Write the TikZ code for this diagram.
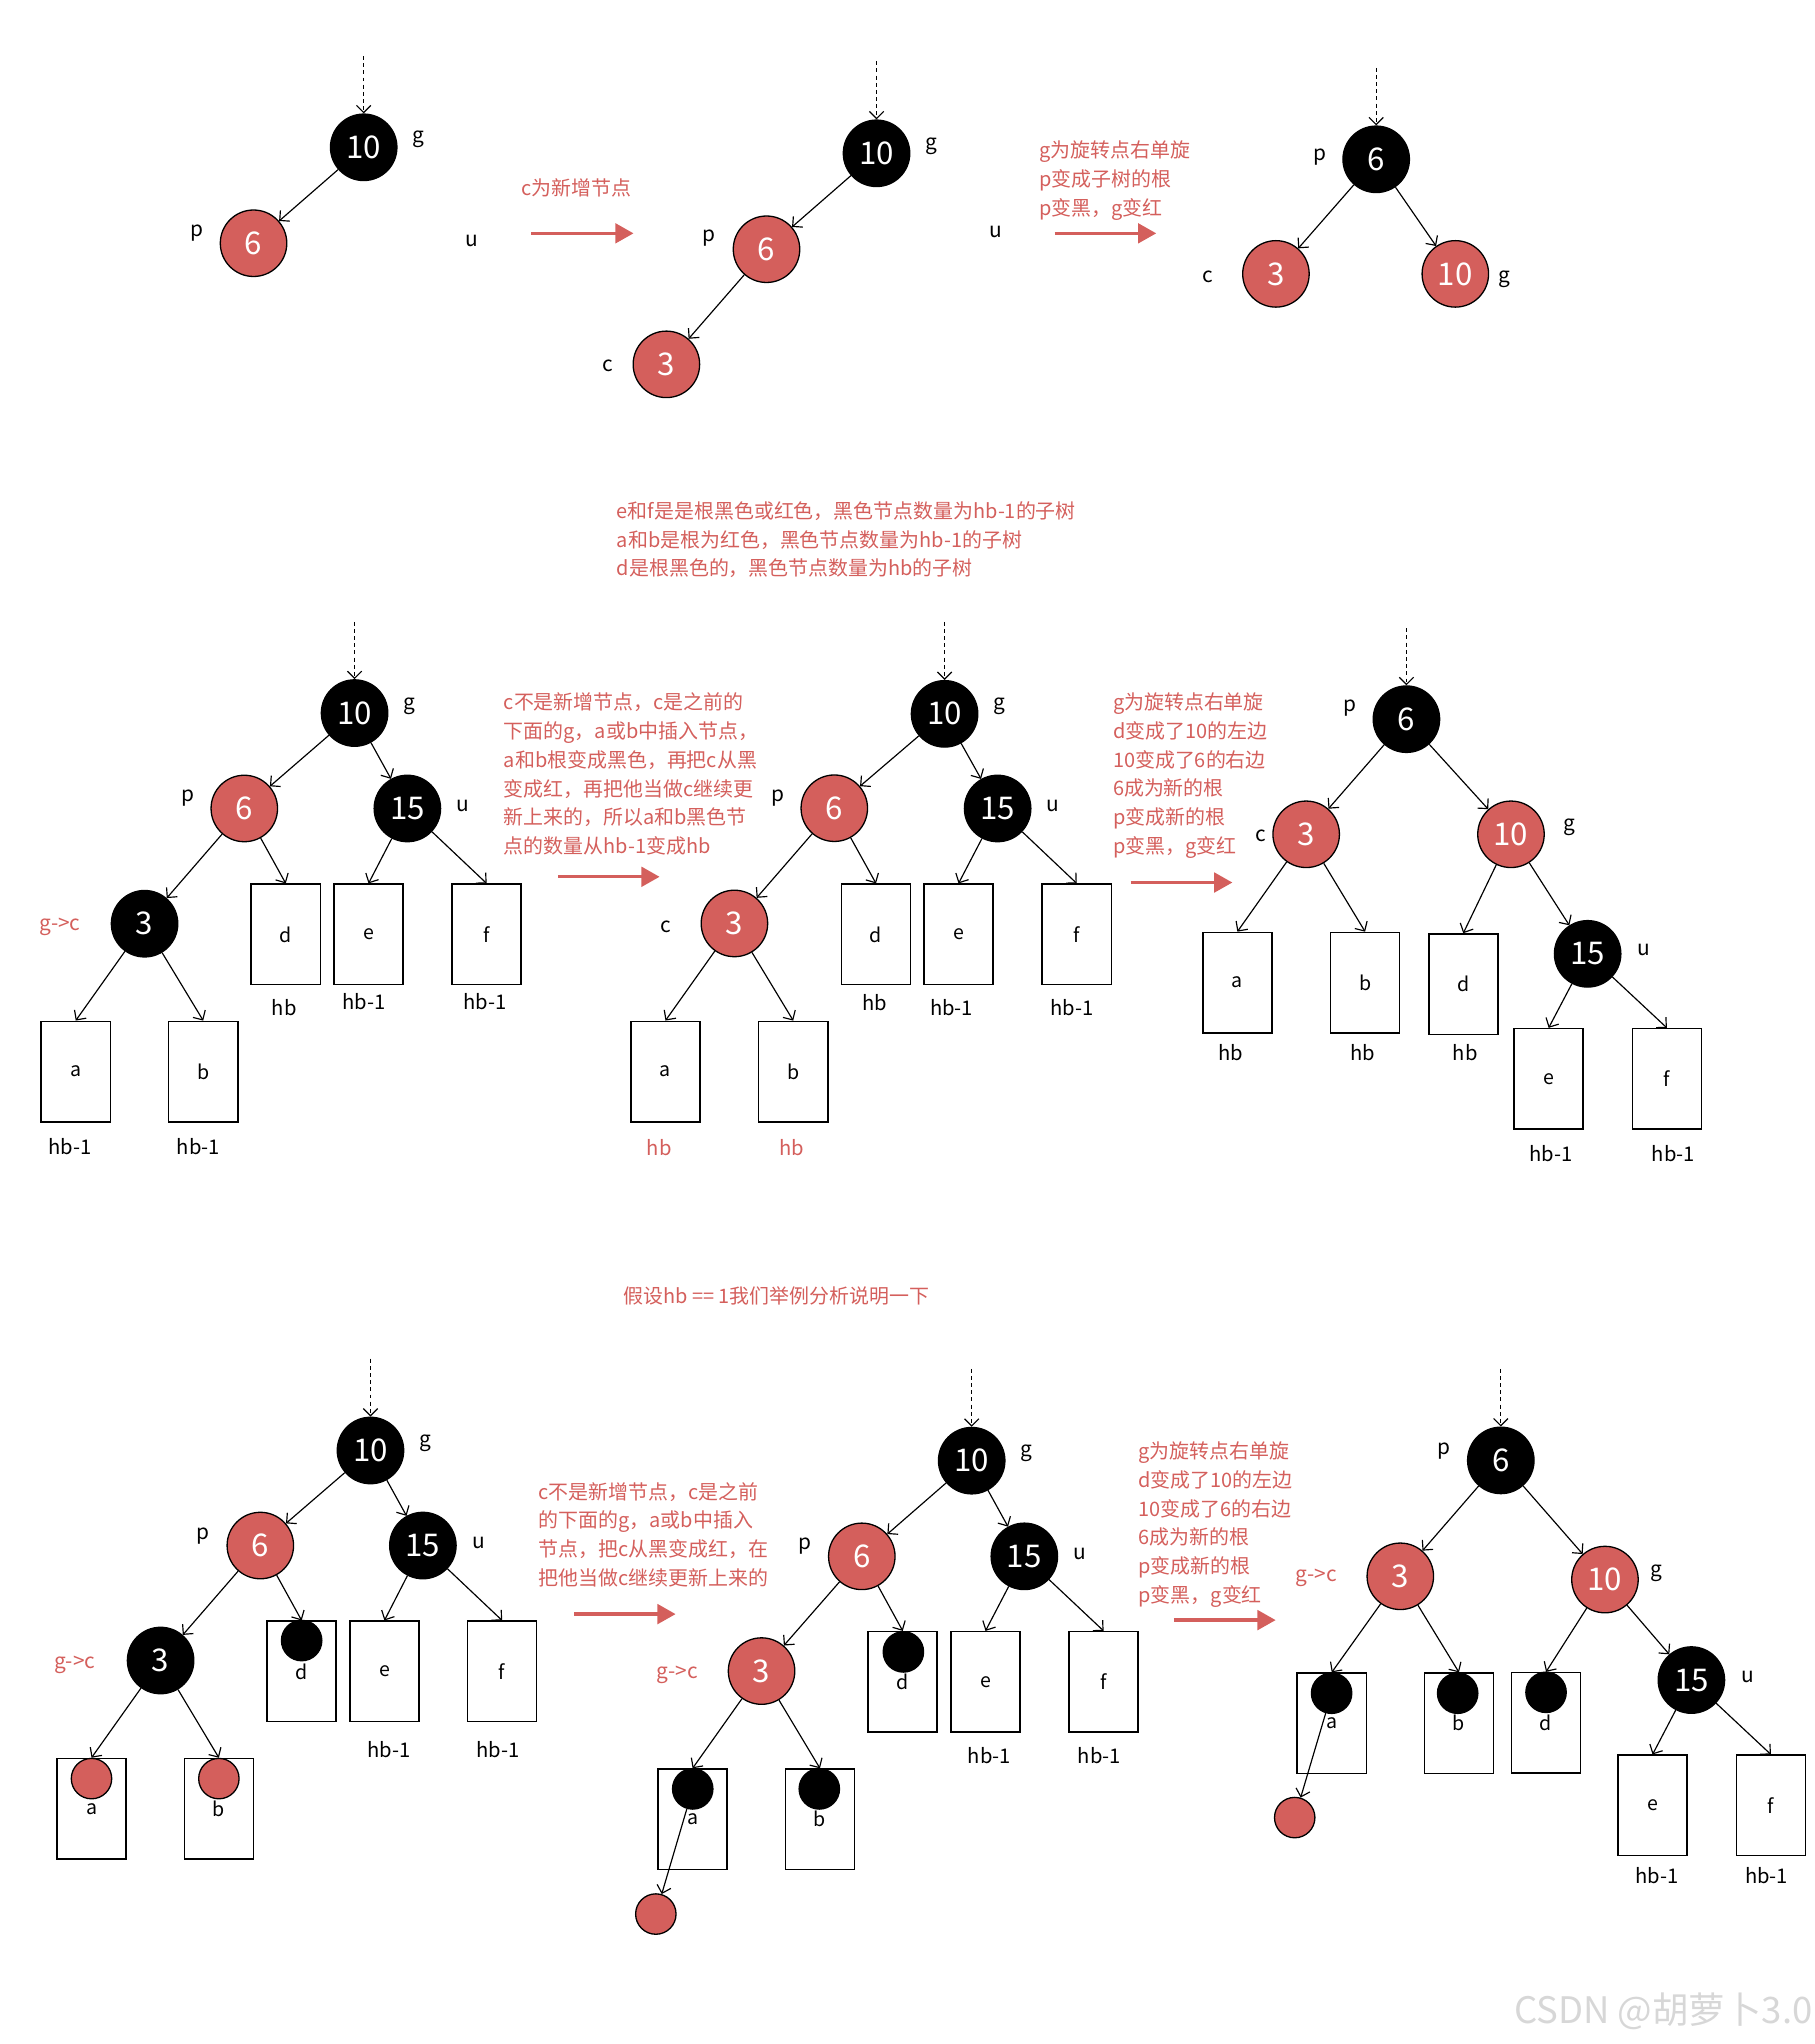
\documentclass[tikz,border=0pt]{standalone}
\usepackage{fontspec}
\setmainfont{Noto Sans CJK SC}
\usetikzlibrary{arrows.meta}
\definecolor{myred}{RGB}{212,95,92}
\definecolor{wm}{RGB}{215,215,215}
\begin{document}
\begin{tikzpicture}[x=1pt,y=-1pt,
  bn/.style={circle,draw=black,line width=1pt,fill=black,text=white,minimum size=51pt,inner sep=0pt,font=\fontsize{24}{24}\selectfont},
  rn/.style={bn,fill=myred},
  bdot/.style={circle,draw=black,line width=1pt,fill=black,minimum size=31pt,inner sep=0pt},
  rdot/.style={bdot,fill=myred},
  sbox/.style={draw=black,line width=1.2pt,minimum width=53pt,minimum height=77pt,inner sep=0pt,font=\fontsize{15}{15}\selectfont},
  lab/.style={inner sep=0pt,font=\fontsize{16}{16}\selectfont},
  hbl/.style={inner sep=0pt,font=\fontsize{15.5}{15.5}\selectfont},
  rlab/.style={lab,text=myred},
  rtxt/.style={inner sep=0pt,text=myred,align=left,anchor=north west,font=\fontsize{15.3}{22}\selectfont},
  edge/.style={draw=black,line width=0.9pt,-{Straight Barb[length=5.5pt,width=11pt]}},
  dashedge/.style={edge,dash pattern=on 3pt off 2.5pt},
  bigarrow/.style={draw=myred,line width=2.6pt,-{Triangle[length=14pt,width=15pt]}}
]
\useasboundingbox (0,0) rectangle (1392,1568);

% ================= TOP ROW =================
% tree 1
\coordinate (t1top) at (279,43);
\node[bn] (t1g) at (279,113) {10};
\node[rn] (t1p) at (194.5,186.6) {6};
\node[lab] (t1lg) at (321,107) {g};
\node[lab] (t1lp) at (151,179) {p};
\node[lab] (t1lu) at (362,185) {u};
\draw[dashedge] (t1top) -- (t1g);
\draw[edge] (t1g) -- (t1p);
\node[rtxt,anchor=west] (t1txt) at (400,144) {c为新增节点};
\coordinate (a1s) at (407.5,179); \coordinate (a1e) at (486,179);
\draw[bigarrow] (a1s) -- (a1e);
% tree 2
\coordinate (t2top) at (672.4,47);
\node[bn] (t2g) at (672.4,117.6) {10};
\node[rn] (t2p) at (588,191.2) {6};
\node[rn] (t2c) at (511.2,279.5) {3};
\node[lab] (t2lg) at (714.4,112) {g};
\node[lab] (t2lp) at (543.8,182.8) {p};
\node[lab] (t2lc) at (466,281) {c};
\node[lab] (t2lu) at (763.6,177.7) {u};
\draw[dashedge] (t2top) -- (t2g);
\draw[edge] (t2g) -- (t2p);
\draw[edge] (t2p) -- (t2c);
\node[rtxt] (t2txt) at (797,108) {g为旋转点右单旋\\p变成子树的根\\p变黑，g变红};
\coordinate (a2s) at (809,179); \coordinate (a2e) at (887,179);
\draw[bigarrow] (a2s) -- (a2e);
% tree 3
\coordinate (t3top) at (1055.7,52);
\node[bn] (t3p) at (1055.7,122.2) {6};
\node[rn] (t3c) at (978.8,210.1) {3};
\node[rn] (t3g) at (1116.4,210.1) {10};
\node[lab] (t3lp) at (1012.4,120.2) {p};
\node[lab] (t3lc) at (926.6,212.7) {c};
\node[lab] (t3lg) at (1154.4,214.2) {g};
\draw[dashedge] (t3top) -- (t3p);
\draw[edge] (t3p) -- (t3c);
\draw[edge] (t3p) -- (t3g);

% ================= MIDDLE ROW =================
\node[rtxt] (mtxt) at (473,384.6) {e和f是是根黑色或红色，黑色节点数量为hb-1的子树\\a和b是根为红色，黑色节点数量为hb-1的子树\\d是根黑色的，黑色节点数量为hb的子树};
% tree M1
\coordinate (m1top) at (272,477);
\node[bn] (m1g) at (272,547) {10};
\node[rn] (m1p) at (187.4,620.2) {6};
\node[bn] (m1u) at (312.5,620.2) {15};
\node[bn] (m1c) at (110.9,708.6) {3};
\node[sbox] (m1a) at (58.1,822) {a};
\node[sbox] (m1b) at (155.9,822) {b};
\node[sbox] (m1d) at (219.2,716.8) {d};
\node[sbox] (m1e) at (282.7,716.8) {e};
\node[sbox] (m1f) at (373.3,716.8) {f};
\node[hbl] (m1ha) at (53.9,879.7) {hb-1};
\node[hbl] (m1hb) at (152.2,879.7) {hb-1};
\node[hbl] (m1hd) at (218,772.8) {hb};
\node[hbl] (m1he) at (279.2,768.7) {hb-1};
\node[hbl] (m1hf) at (371.8,768.2) {hb-1};
\node[lab] (m1lg) at (313.7,541.5) {g};
\node[lab] (m1lp) at (144,612.5) {p};
\node[lab] (m1lu) at (355,618) {u};
\node[rlab] (m1lc) at (46,711) {g->c};
\draw[dashedge] (m1top) -- (m1g);
\draw[edge] (m1g) -- (m1p);
\draw[edge] (m1g) -- (m1u);
\draw[edge] (m1p) -- (m1c);
\draw[edge] (m1p) -- (m1d.north);
\draw[edge] (m1u) -- (m1e.north);
\draw[edge] (m1u) -- (m1f.north);
\draw[edge] (m1c) -- (m1a.north);
\draw[edge] (m1c) -- (m1b.north);
\node[rtxt] (m1txt) at (386.3,531.5) {c不是新增节点，c是之前的\\下面的g，a或b中插入节点，\\a和b根变成黑色，再把c从黑\\变成红，再把他当做c继续更\\新上来的，所以a和b黑色节\\点的数量从hb-1变成hb};
\coordinate (a3s) at (428.4,672.6); \coordinate (a3e) at (506,672.6);
\draw[bigarrow] (a3s) -- (a3e);
% tree M2
\coordinate (m2top) at (724.6,477);
\node[bn] (m2g) at (724.6,547.6) {10};
\node[rn] (m2p) at (640,620) {6};
\node[bn] (m2u) at (765.3,620.2) {15};
\node[rn] (m2c) at (563.4,708.4) {3};
\node[sbox] (m2a) at (510.5,822) {a};
\node[sbox] (m2b) at (608.5,822) {b};
\node[sbox] (m2d) at (672,716.8) {d};
\node[sbox] (m2e) at (735.3,716.8) {e};
\node[sbox] (m2f) at (826,716.8) {f};
\node[hbl,text=myred] (m2ha) at (505.8,880) {hb};
\node[hbl,text=myred] (m2hb) at (607.4,880) {hb};
\node[hbl] (m2hd) at (671,769) {hb};
\node[hbl] (m2he) at (730,773) {hb-1};
\node[hbl] (m2hf) at (822.5,772.8) {hb-1};
\node[lab] (m2lg) at (767,541.5) {g};
\node[lab] (m2lp) at (596.7,612) {p};
\node[lab] (m2lu) at (807.6,618) {u};
\node[lab] (m2lc) at (510.5,711) {c};
\draw[dashedge] (m2top) -- (m2g);
\draw[edge] (m2g) -- (m2p);
\draw[edge] (m2g) -- (m2u);
\draw[edge] (m2p) -- (m2c);
\draw[edge] (m2p) -- (m2d.north);
\draw[edge] (m2u) -- (m2e.north);
\draw[edge] (m2u) -- (m2f.north);
\draw[edge] (m2c) -- (m2a.north);
\draw[edge] (m2c) -- (m2b.north);
\node[rtxt] (m2txt) at (853.6,531.5) {g为旋转点右单旋\\d变成了10的左边\\10变成了6的右边\\6成为新的根\\p变成新的根\\p变黑，g变红};
\coordinate (a4s) at (867.4,677); \coordinate (a4e) at (945.4,677);
\draw[bigarrow] (a4s) -- (a4e);
% tree M3
\coordinate (m3top) at (1078.9,482);
\node[bn] (m3p) at (1078.9,551.7) {6};
\node[rn] (m3c) at (1002,640) {3};
\node[rn] (m3g) at (1159.1,640) {10};
\node[bn] (m3u) at (1217.9,731.7) {15};
\node[sbox] (m3a) at (949.2,753.8) {a};
\node[sbox] (m3b) at (1047.2,753.8) {b};
\node[sbox] (m3d) at (1122.5,755) {d};
\node[sbox] (m3e) at (1188,827.6) {e};
\node[sbox] (m3f) at (1278.7,827.6) {f};
\node[hbl] (m3ha) at (943.9,807.6) {hb};
\node[hbl] (m3hb) at (1045.5,807.6) {hb};
\node[hbl] (m3hd) at (1124,807.6) {hb};
\node[hbl] (m3he) at (1190,885) {hb-1};
\node[hbl] (m3hf) at (1283.7,885) {hb-1};
\node[lab] (m3lp) at (1035.7,543.5) {p};
\node[lab] (m3lc) at (966.9,641) {c};
\node[lab] (m3lg) at (1204,634.3) {g};
\node[lab] (m3lu) at (1260.8,729) {u};
\draw[dashedge] (m3top) -- (m3p);
\draw[edge] (m3p) -- (m3c);
\draw[edge] (m3p) -- (m3g);
\draw[edge] (m3c) -- (m3a.north);
\draw[edge] (m3c) -- (m3b.north);
\draw[edge] (m3g) -- (m3d.north);
\draw[edge] (m3g) -- (m3u);
\draw[edge] (m3u) -- (m3e.north);
\draw[edge] (m3u) -- (m3f.north);

% ================= BOTTOM ROW =================
\node[rtxt,anchor=west] (btxt) at (478,994.5) {假设hb == 1我们举例分析说明一下};
% tree B1
\coordinate (b1top) at (284.2,1042.3);
\node[bn] (b1g) at (284.2,1112.7) {10};
\node[rn] (b1p) at (199.7,1185.6) {6};
\node[bn] (b1u) at (324.4,1185.6) {15};
\node[bn] (b1c) at (123.2,1273.8) {3};
\node[sbox] (b1a) at (70.2,1387.5) {a};
\node[sbox] (b1b) at (167.9,1387.5) {b};
\node[sbox] (b1d) at (231.4,1282.2) {d};
\node[sbox] (b1e) at (294.9,1282.2) {e};
\node[sbox] (b1f) at (385.2,1282.2) {f};
\node[rdot] (b1adot) at (70.2,1364.4) {};
\node[rdot] (b1bdot) at (167.9,1364.4) {};
\node[bdot] (b1ddot) at (231.4,1258.5) {};
\node[hbl] (b1he) at (298.4,1342) {hb-1};
\node[hbl] (b1hf) at (381.8,1342) {hb-1};
\node[lab] (b1lg) at (326.3,1107) {g};
\node[lab] (b1lp) at (156,1178) {p};
\node[lab] (b1lu) at (367.2,1184) {u};
\node[rlab] (b1lc) at (57.4,1277.3) {g->c};
\draw[dashedge] (b1top) -- (b1g);
\draw[edge] (b1g) -- (b1p);
\draw[edge] (b1g) -- (b1u);
\draw[edge] (b1p) -- (b1c);
\draw[edge] (b1p) -- (b1d.north);
\draw[edge] (b1u) -- (b1e.north);
\draw[edge] (b1u) -- (b1f.north);
\draw[edge] (b1c) -- (b1a.north);
\draw[edge] (b1c) -- (b1b.north);
\node[rtxt] (b1txt) at (413.1,1136.9) {c不是新增节点，c是之前\\的下面的g，a或b中插入\\节点，把c从黑变成红，在\\把他当做c继续更新上来的};
\coordinate (a5s) at (440.7,1238.2); \coordinate (a5e) at (518.3,1238.2);
\draw[bigarrow] (a5s) -- (a5e);
% tree B2
\coordinate (b2top) at (745.4,1050);
\node[bn] (b2g) at (745.4,1120.5) {10};
\node[rn] (b2p) at (661.1,1193.9) {6};
\node[bn] (b2u) at (785.8,1193.9) {15};
\node[rn] (b2c) at (584.2,1281.9) {3};
\node[sbox] (b2a) at (531.3,1395.6) {a};
\node[sbox] (b2b) at (629,1395.6) {b};
\node[sbox] (b2d) at (692.5,1290.2) {d};
\node[sbox] (b2e) at (756,1290.2) {e};
\node[sbox] (b2f) at (846.6,1290.2) {f};
\node[bdot] (b2adot) at (531.4,1372.3) {};
\node[bdot] (b2bdot) at (628.5,1372.3) {};
\node[bdot] (b2ddot) at (693,1267.2) {};
\node[rdot] (b2new) at (503.1,1468.3) {};
\node[hbl] (b2he) at (759,1346.5) {hb-1};
\node[hbl] (b2hf) at (843.3,1346.5) {hb-1};
\node[lab] (b2lg) at (787.3,1114.6) {g};
\node[lab] (b2lp) at (617.5,1186.4) {p};
\node[lab] (b2lu) at (828.7,1191.8) {u};
\node[rlab] (b2lc) at (519.6,1284.9) {g->c};
\draw[dashedge] (b2top) -- (b2g);
\draw[edge] (b2g) -- (b2p);
\draw[edge] (b2g) -- (b2u);
\draw[edge] (b2p) -- (b2c);
\draw[edge] (b2p) -- (b2d.north);
\draw[edge] (b2u) -- (b2e.north);
\draw[edge] (b2u) -- (b2f.north);
\draw[edge] (b2c) -- (b2a.north);
\draw[edge] (b2c) -- (b2b.north);
\draw[edge] (b2adot) -- (b2new);
\node[rtxt] (b2txt) at (873.2,1106) {g为旋转点右单旋\\d变成了10的左边\\10变成了6的右边\\6成为新的根\\p变成新的根\\p变黑，g变红};
\coordinate (a6s) at (900.4,1242.8); \coordinate (a6e) at (978.6,1242.8);
\draw[bigarrow] (a6s) -- (a6e);
% tree B3
\coordinate (b3top) at (1151.3,1050);
\node[bn] (b3p) at (1151.3,1120.3) {6};
\node[rn] (b3c) at (1074.2,1209.2) {3};
\node[rn] (b3g) at (1231.2,1211.7) {10};
\node[bn] (b3u) at (1297.5,1288.8) {15};
\node[sbox] (b3a) at (1021.6,1322) {a};
\node[sbox] (b3b) at (1119.2,1322) {b};
\node[sbox] (b3d) at (1186,1321.6) {d};
\node[sbox] (b3e) at (1267.7,1385) {e};
\node[sbox] (b3f) at (1358.5,1385) {f};
\node[bdot] (b3adot) at (1021.5,1298.9) {};
\node[bdot] (b3bdot) at (1118.2,1298.9) {};
\node[bdot] (b3ddot) at (1186,1298.2) {};
\node[rdot] (b3new) at (993.2,1394.3) {};
\node[hbl] (b3he) at (1271,1439) {hb-1};
\node[hbl] (b3hf) at (1355.2,1439) {hb-1};
\node[lab] (b3lp) at (1107.8,1113) {p};
\node[rlab] (b3lc) at (1009.6,1210.7) {g->c};
\node[lab] (b3lg) at (1270.3,1207) {g};
\node[lab] (b3lu) at (1340.6,1286.3) {u};
\draw[dashedge] (b3top) -- (b3p);
\draw[edge] (b3p) -- (b3c);
\draw[edge] (b3p) -- (b3g);
\draw[edge] (b3c) -- (b3a.north);
\draw[edge] (b3c) -- (b3b.north);
\draw[edge] (b3g) -- (b3d.north);
\draw[edge] (b3g) -- (b3u);
\draw[edge] (b3u) -- (b3e.north);
\draw[edge] (b3u) -- (b3f.north);
\draw[edge] (b3adot) -- (b3new);

% watermark
\node[inner sep=0pt,text=wm,font=\fontsize{28}{28}\selectfont] (wmk) at (1276,1543) {CSDN @胡萝卜3.0};
\end{tikzpicture}
\end{document}
